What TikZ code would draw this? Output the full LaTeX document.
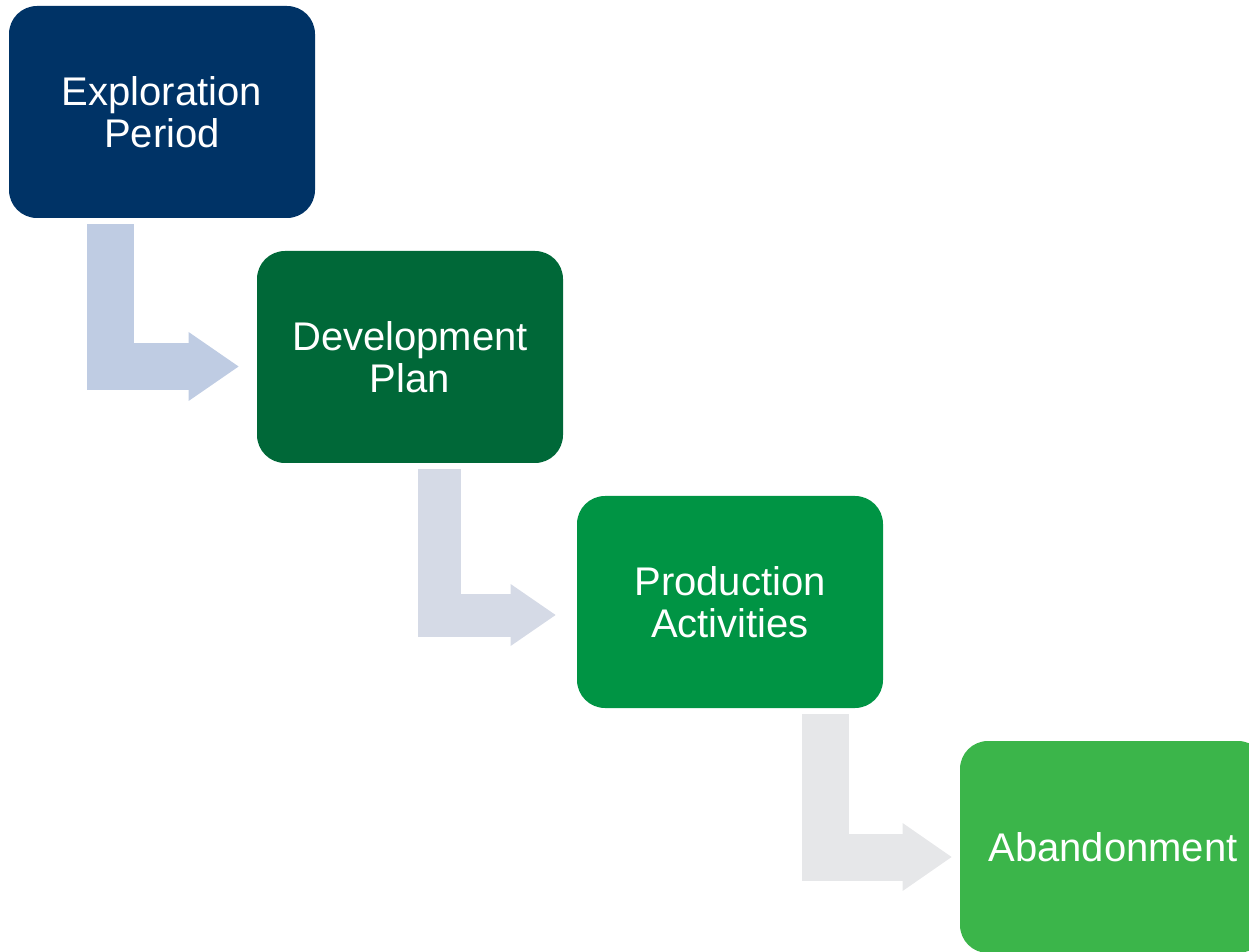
\documentclass[tikz,border=0pt]{standalone}
\usepackage{fontspec}
\setmainfont{Liberation Sans}
\usetikzlibrary{calc,arrows.meta}
\definecolor{navy}{RGB}{0,51,102}
\definecolor{devgreen}{RGB}{0,104,56}
\definecolor{prodgreen}{RGB}{0,148,68}
\definecolor{abgreen}{RGB}{59,181,74}
\definecolor{arrowa}{RGB}{191,204,227}
\definecolor{arrowb}{RGB}{213,218,230}
\definecolor{arrowc}{RGB}{230,231,233}

\begin{document}
\begin{tikzpicture}[x=0.5pt,y=-0.5pt,
  stage/.style={rounded corners=14pt,minimum width=153pt,minimum height=106pt,inner sep=0pt,
    text=white,align=center,font=\fontsize{20}{21}\selectfont},
  flow/.style={line join=miter,line cap=butt}]
\clip (0,0) rectangle (1249,952);
\node[stage,fill=navy] (expl) at (162,112) {Exploration\\Period};
\node[stage,fill=devgreen] (dev) at (410,357) {Development\\Plan};
\node[stage,fill=prodgreen] (prod) at (730,602) {Production\\Activities};
\node[stage,fill=abgreen] (aban) at (1113,847) {Abandonment};
\draw[flow,arrowa,line width=23.5pt,-{Triangle[length=25pt,width=34.5pt,line width=0pt]}]
  ($(expl.south)+(-51.5,6)$) |- ($(dev.west)+(-18,9.5)$);
\draw[flow,arrowb,line width=21.5pt,-{Triangle[length=22.5pt,width=31pt,line width=0pt]}]
  ($(dev.south)+(29,6)$) |- ($(prod.west)+(-21,13)$);
\draw[flow,arrowc,line width=23.5pt,-{Triangle[length=24.5pt,width=34pt,line width=0pt]}]
  ($(prod.south)+(95,6)$) |- ($(aban.west)+(-8,10)$);
\end{tikzpicture}
\end{document}
